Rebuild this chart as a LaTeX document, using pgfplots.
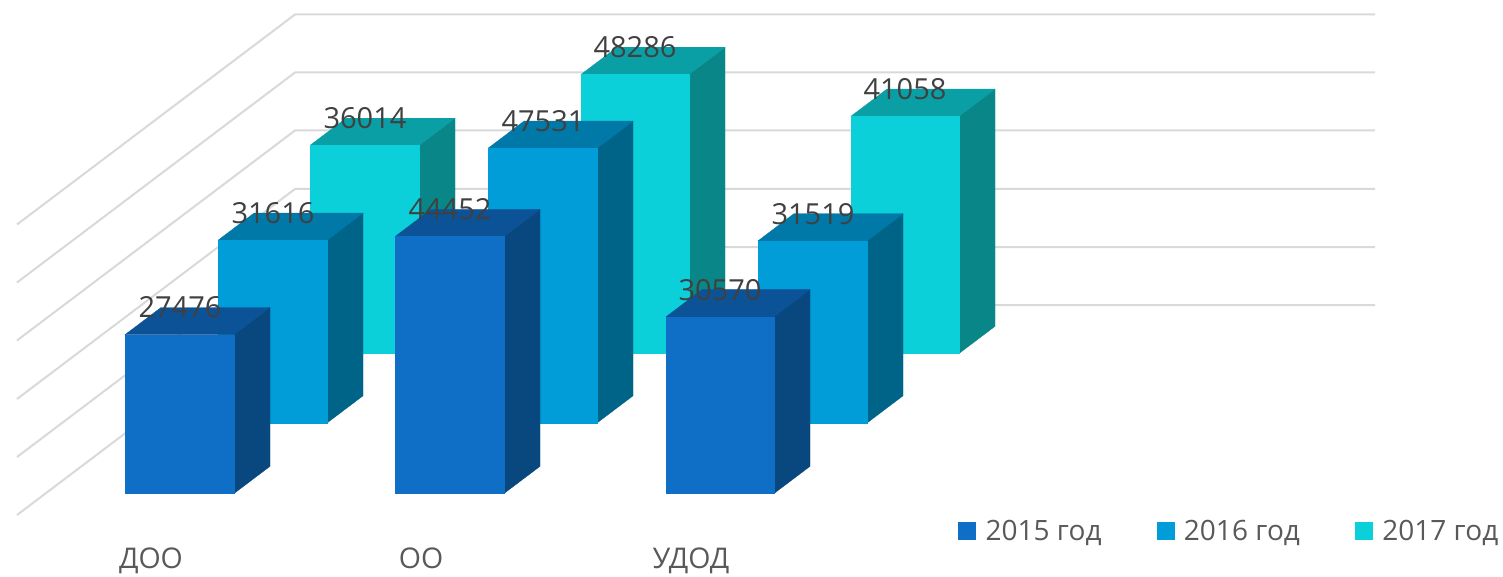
\documentclass[border=0pt]{standalone}
\usepackage{pgfplots}
\pgfplotsset{compat=1.18}
\usepackage{fontspec}
\setmainfont{Open Sans}
\definecolor{aF}{HTML}{0F6FC6}\definecolor{aT}{HTML}{0C5296}\definecolor{aS}{HTML}{09477F}
\definecolor{bF}{HTML}{009DD9}\definecolor{bT}{HTML}{0079A8}\definecolor{bS}{HTML}{006388}
\definecolor{cF}{HTML}{0BD0D9}\definecolor{cT}{HTML}{0A9FA5}\definecolor{cS}{HTML}{088688}
\definecolor{gridc}{HTML}{D9D9D9}
\definecolor{lab}{HTML}{404040}\definecolor{cat}{HTML}{595959}
% x in image pixels; y in data units (0 = front row floor)
% #1 left x, #2 right x, #3 row offset, #4 value, #5 colour prefix
\newcommand{\threebar}[5]{%
  \edef\yb{\the\numexpr#3\relax}%
  \edef\yt{\the\numexpr#3+#4\relax}%
  \edef\ybb{\the\numexpr#3+4700\relax}%
  \edef\ytb{\the\numexpr#3+#4+4700\relax}%
  \edef\xrb{\the\numexpr#2+36\relax}%
  \edef\xlb{\the\numexpr#1+36\relax}%
  \edef\xc{\the\numexpr(#1+#2)/2\relax}%
  \edef\tmp{%
    \noexpand\addplot[fill=#5S,draw=#5S,line width=0.3pt,forget plot] coordinates {(#2,\yb)(\xrb,\ybb)(\xrb,\ytb)(#2,\yt)} --cycle;
    \noexpand\addplot[fill=#5T,draw=#5T,line width=0.3pt,forget plot] coordinates {(#1,\yt)(#2,\yt)(\xrb,\ytb)(\xlb,\ytb)} --cycle;
    \noexpand\addplot[fill=#5F,draw=#5F,line width=0.3pt,forget plot] coordinates {(#1,\yb)(#2,\yb)(#2,\yt)(#1,\yt)} --cycle;
    \noexpand\node[lab,font=\noexpand\fontsize{29}{34}\noexpand\selectfont,anchor=center] at (axis cs:\xc,\ytb) {#4};
  }\tmp}
\newcommand{\gridl}[2]{%
  \addplot[gridc,line width=2pt,forget plot] coordinates {(17,#1)(295,#2)(1375,#2)};}
\newcommand{\catl}[2]{%
  \node[cat,font=\fontsize{28.5}{34}\selectfont,anchor=base] at (axis cs:#1,-12890) {#2};}
\begin{document}
\begin{tikzpicture}
\begin{axis}[
  scale only axis, width=1503pt, height=572pt,
  xmin=0, xmax=1503, ymin=-13581, ymax=85381,
  hide axis, clip=false,
  legend style={at={(axis cs:958,-6500)},anchor=west,draw=none,fill=none,inner sep=0pt,
    font=\fontsize{28}{34}\selectfont,text=cat,
    /tikz/every odd column/.append style={column sep=8pt},
    /tikz/every even column/.append style={column sep=53pt}},
  legend columns=3,
  legend cell align=left,
]
\path[draw=none] (axis cs:0,-13581) -- (axis cs:1503,85381);
\gridl{-3720}{32612}
\gridl{6315}{42647}
\gridl{16350}{52682}
\gridl{26471}{62803}
\gridl{36505}{72837}
\gridl{46540}{82872}
% 2017
\threebar{310}{419}{24221}{36014}{c}
\threebar{581}{689}{24221}{48286}{c}
\threebar{851}{959}{24221}{41058}{c}
% 2016
\threebar{218}{327}{12197}{31616}{b}
\threebar{488}{597}{12197}{47531}{b}
\threebar{758}{867}{12197}{31519}{b}
% 2015
\threebar{125}{234}{0}{27476}{a}
\threebar{395}{504}{0}{44452}{a}
\threebar{666}{774}{0}{30570}{a}
\catl{151}{ДОО}
\catl{421}{ОО}
\catl{691}{УДОД}
\addlegendimage{legend image code/.code={\fill[aF] (0pt,-8.5pt) rectangle (17pt,8.5pt);}}
\addlegendentry{2015 год}
\addlegendimage{legend image code/.code={\fill[bF] (0pt,-8.5pt) rectangle (17pt,8.5pt);}}
\addlegendentry{2016 год}
\addlegendimage{legend image code/.code={\fill[cF] (0pt,-8.5pt) rectangle (17pt,8.5pt);}}
\addlegendentry{2017 год}
\end{axis}
\end{tikzpicture}
\end{document}
